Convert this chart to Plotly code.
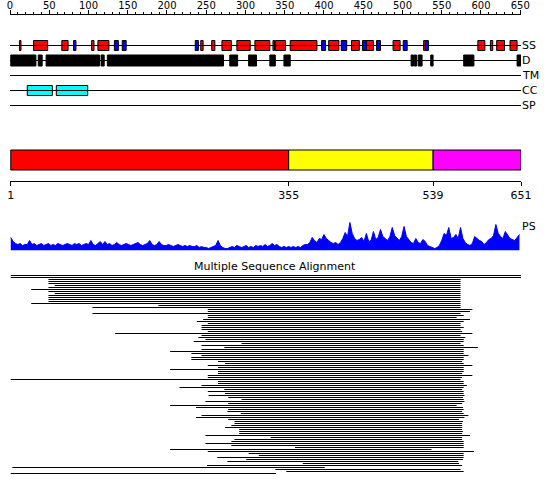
import plotly.graph_objects as go

# eixo de residuos
seq_len = 651
top_ticks = list(range(0, 651, 50))
dom_ticks = [1, 355, 539, 651]

# estrutura secundaria (H = helice, E = fita)
ss_start = [12, 30, 66, 81, 104, 112, 133, 143, 236, 243, 257, 270, 289, 312, 335,
            338, 357, 397, 406, 422, 435, 449, 454, 467, 488, 501, 527, 529, 596, 612, 620, 637]
ss_end = [14, 48, 74, 84, 107, 126, 138, 148, 240, 246, 261, 282, 306, 331, 337,
          351, 391, 402, 419, 429, 445, 455, 463, 472, 497, 506, 530, 533, 605, 615, 630, 646]
ss_type = ['H', 'H', 'H', 'E', 'H', 'H', 'E', 'E', 'E', 'H', 'H', 'H', 'H', 'H', 'H',
           'H', 'H', 'E', 'H', 'E', 'H', 'E', 'H', 'E', 'H', 'E', 'H', 'E', 'H', 'H', 'H', 'H']

# desordem
d_start = [1, 36, 46, 116, 124, 280, 304, 331, 349, 511, 515, 520, 536, 578, 646]
d_end = [33, 41, 114, 120, 272, 290, 314, 338, 357, 514, 518, 525, 539, 591, 651]

# coiled coil
cc_start = [22, 59]
cc_end = [54, 99]

# dominios
dom_start = [1, 355, 539]
dom_end = [355, 539, 651]
dom_cor = ['#ff0000', '#ffff00', '#ff00ff']

# perfil PS (altura em px, a cada 3 residuos)
ps_val = [13, 9, 7, 6, 7, 5, 6, 6, 10, 6,
          7, 5, 6, 7, 5, 6, 7, 5, 6, 5, 7, 6,
          5, 6, 7, 6, 5, 7, 6, 7, 5, 6, 7, 6, 10,
          6, 5, 7, 9, 6, 9, 6, 7, 5, 6, 8, 6, 5, 6, 7, 6, 5, 6, 7, 8,
          6, 5, 6, 7, 10, 6, 5, 6, 9, 6, 5, 5, 6, 5, 4, 5, 6, 5, 4, 5,
          4, 5, 4, 4, 5, 3, 4, 3, 3, 2, 3, 4, 5, 10, 5, 3, 2, 2, 3, 4,
          3, 5, 4, 3, 4, 5, 3, 4, 3, 5, 4, 5, 4, 6, 4, 5,
          7, 5, 6, 4, 3, 4, 3, 4, 3, 4, 3, 4, 3, 5, 6, 6, 8, 13, 10, 8,
          12, 11, 16, 12, 10, 8, 7, 8, 6, 8, 12, 18, 14, 28, 17, 12, 10, 11, 13, 9,
          17, 9, 10, 19, 11, 13, 21, 14, 12, 10, 14, 23, 15, 12, 10, 14, 24, 14, 11, 8,
          7, 12, 8, 7, 11, 9, 5, 4, 3, 2, 3, 5, 10, 17, 15, 23, 12, 13, 16, 12,
          23, 12, 8, 6, 5, 7, 14, 12, 10, 9, 6, 8, 11, 12, 15, 26, 17, 14, 12, 19,
          15, 12, 11, 10, 13, 16]
ps_res = list(range(1, seq_len + 1, 3))[:len(ps_val)]

# alinhamento multiplo (inicio / fim de cada sequencia)
msa_start = [1, 1, 49, 49, 49, 57, 49, 27, 49, 57, 49, 49, 49, 49, 27, 189, 105, 252,
             252, 105, 252, 252, 246, 238, 252, 244, 244, 244, 252, 134, 244, 240, 249, 234,
             295, 244, 273, 244, 204,
             231, 244, 231, 231, 265, 274, 252, 265, 204, 265, 265, 252, 252, 1, 265, 265,
             244, 216, 273, 252,
             274, 253, 278, 295, 249, 278, 204, 237, 278, 277, 294, 244, 237, 278, 286, 286,
             282, 274, 292, 292,
             292, 249, 332, 286, 282, 249, 282, 363, 204, 252, 304, 317, 264, 301, 277, 373,
             251, 3, 338, 352, 1]
msa_end = [651, 651, 574, 574, 574, 574, 574, 574, 574, 574, 574, 574, 574, 574, 574, 574,
           574, 589,
           586, 574, 578, 569, 586, 578, 574, 574, 578, 574, 576, 589, 574, 580, 578, 578,
           574, 578, 596, 578, 578,
           578, 584, 578, 578, 576, 578, 589, 578, 578, 578, 576, 589, 576, 574, 578, 578,
           582, 578, 576, 578,
           578, 579, 577, 578, 579, 576, 569, 577, 578, 576, 578, 584, 579, 572, 577, 576,
           576, 576, 576, 577,
           576, 586, 576, 576, 578, 578, 578, 578, 537, 591, 578, 578, 578, 577, 571, 572,
           576, 401, 574, 578, 339]

fonte = dict(family='DejaVu Sans', size=11, color='black')
fonte_topo = dict(family='DejaVu Sans', size=10, color='black')
fig = go.Figure()

# linhas das trilhas
trilhas = {'SS': 45.5, 'D': 60.5, 'TM': 75.5, 'CC': 90.5, 'SP': 105.5}
for nome, yy in trilhas.items():
    fig.add_trace(go.Scatter(x=[0, seq_len], y=[yy, yy], mode='lines',
                             line=dict(color='black', width=1), hoverinfo='skip'))
    fig.add_annotation(x=1, xref='paper', y=yy, yref='y', text=nome, showarrow=False,
                       xanchor='left', yanchor='middle', font=fonte, borderpad=0)

fig.add_trace(go.Bar(y=[trilhas['SS']] * len(ss_start), base=ss_start,
                     x=[e - s for s, e in zip(ss_start, ss_end)], orientation='h', width=10,
                     marker=dict(color=['#ff0000' if t == 'H' else '#0000ff' for t in ss_type],
                                 line=dict(color='black', width=1))))
fig.add_trace(go.Bar(y=[trilhas['D']] * len(d_start), base=d_start,
                     x=[e - s for s, e in zip(d_start, d_end)], orientation='h', width=11,
                     marker=dict(color='black', line=dict(color='black', width=1))))
fig.add_trace(go.Bar(y=[trilhas['CC']] * len(cc_start), base=cc_start,
                     x=[e - s for s, e in zip(cc_start, cc_end)], orientation='h', width=10,
                     marker=dict(color='#00ffff', line=dict(color='black', width=1))))

# barra de dominios
fig.add_trace(go.Bar(y=[160] * len(dom_start), base=dom_start,
                     x=[e - s for s, e in zip(dom_start, dom_end)], orientation='h', width=20,
                     marker=dict(color=dom_cor, line=dict(color='black', width=1)),
                     xaxis='x2', yaxis='y'))

# perfil PS
fig.add_trace(go.Scatter(x=ps_res, y=ps_val, mode='lines', fill='tozeroy',
                         line=dict(color='#0000ff', width=1), fillcolor='#0000ff',
                         xaxis='x', yaxis='y3'))
fig.add_annotation(x=1, xref='paper', y=226.5, yref='y', text='PS', showarrow=False,
                   xanchor='left', yanchor='middle', font=fonte, borderpad=0)

# alinhamento
xs, ys = [], []
for i, (s, e) in enumerate(zip(msa_start, msa_end)):
    yy = 275.5 + 2 * i
    xs += [s, e, None]
    ys += [yy, yy, None]
fig.add_trace(go.Scatter(x=xs, y=ys, mode='lines', line=dict(color='black', width=1),
                         hoverinfo='skip'))
fig.add_annotation(x=0.518, xref='paper', y=266, yref='y', text='Multiple Sequence Alignment',
                   showarrow=False, font=fonte)

fig.update_layout(
    width=550, height=495,
    margin=dict(l=10, r=29, t=15, b=0, autoexpand=False),
    plot_bgcolor='white', paper_bgcolor='white',
    showlegend=False, barmode='overlay',
    font=fonte,
    xaxis=dict(range=[0, seq_len], side='top', showline=True, linecolor='black', linewidth=1,
               ticks='outside', ticklen=4, tickcolor='black', tickvals=top_ticks,
               minor=dict(ticks='outside', ticklen=2, dtick=10, tick0=0, tickcolor='black'),
               showgrid=False, zeroline=False, tickfont=fonte_topo, fixedrange=True,
               automargin=False, ticklabelstandoff=-3),
    xaxis2=dict(range=[0, seq_len], overlaying='x', anchor='free', position=(495 - 181) / 480,
                side='bottom', showline=True, linecolor='black', linewidth=1,
                ticks='outside', ticklen=4, tickcolor='black', tickvals=dom_ticks,
                showgrid=False, zeroline=False, tickfont=fonte, fixedrange=True,
                automargin=False),
    yaxis=dict(range=[495, 15], visible=False, fixedrange=True, automargin=False),
    yaxis3=dict(domain=[(495 - 250.5) / 480, (495 - 220.5) / 480], range=[0, 30],
                visible=False, anchor='x', fixedrange=True, automargin=False),
)

# sem margem do body, para a figura comecar no canto da pagina
fig.write_html("out.html", config={'displayModeBar': False},
               post_script="document.body.style.margin='0';")
